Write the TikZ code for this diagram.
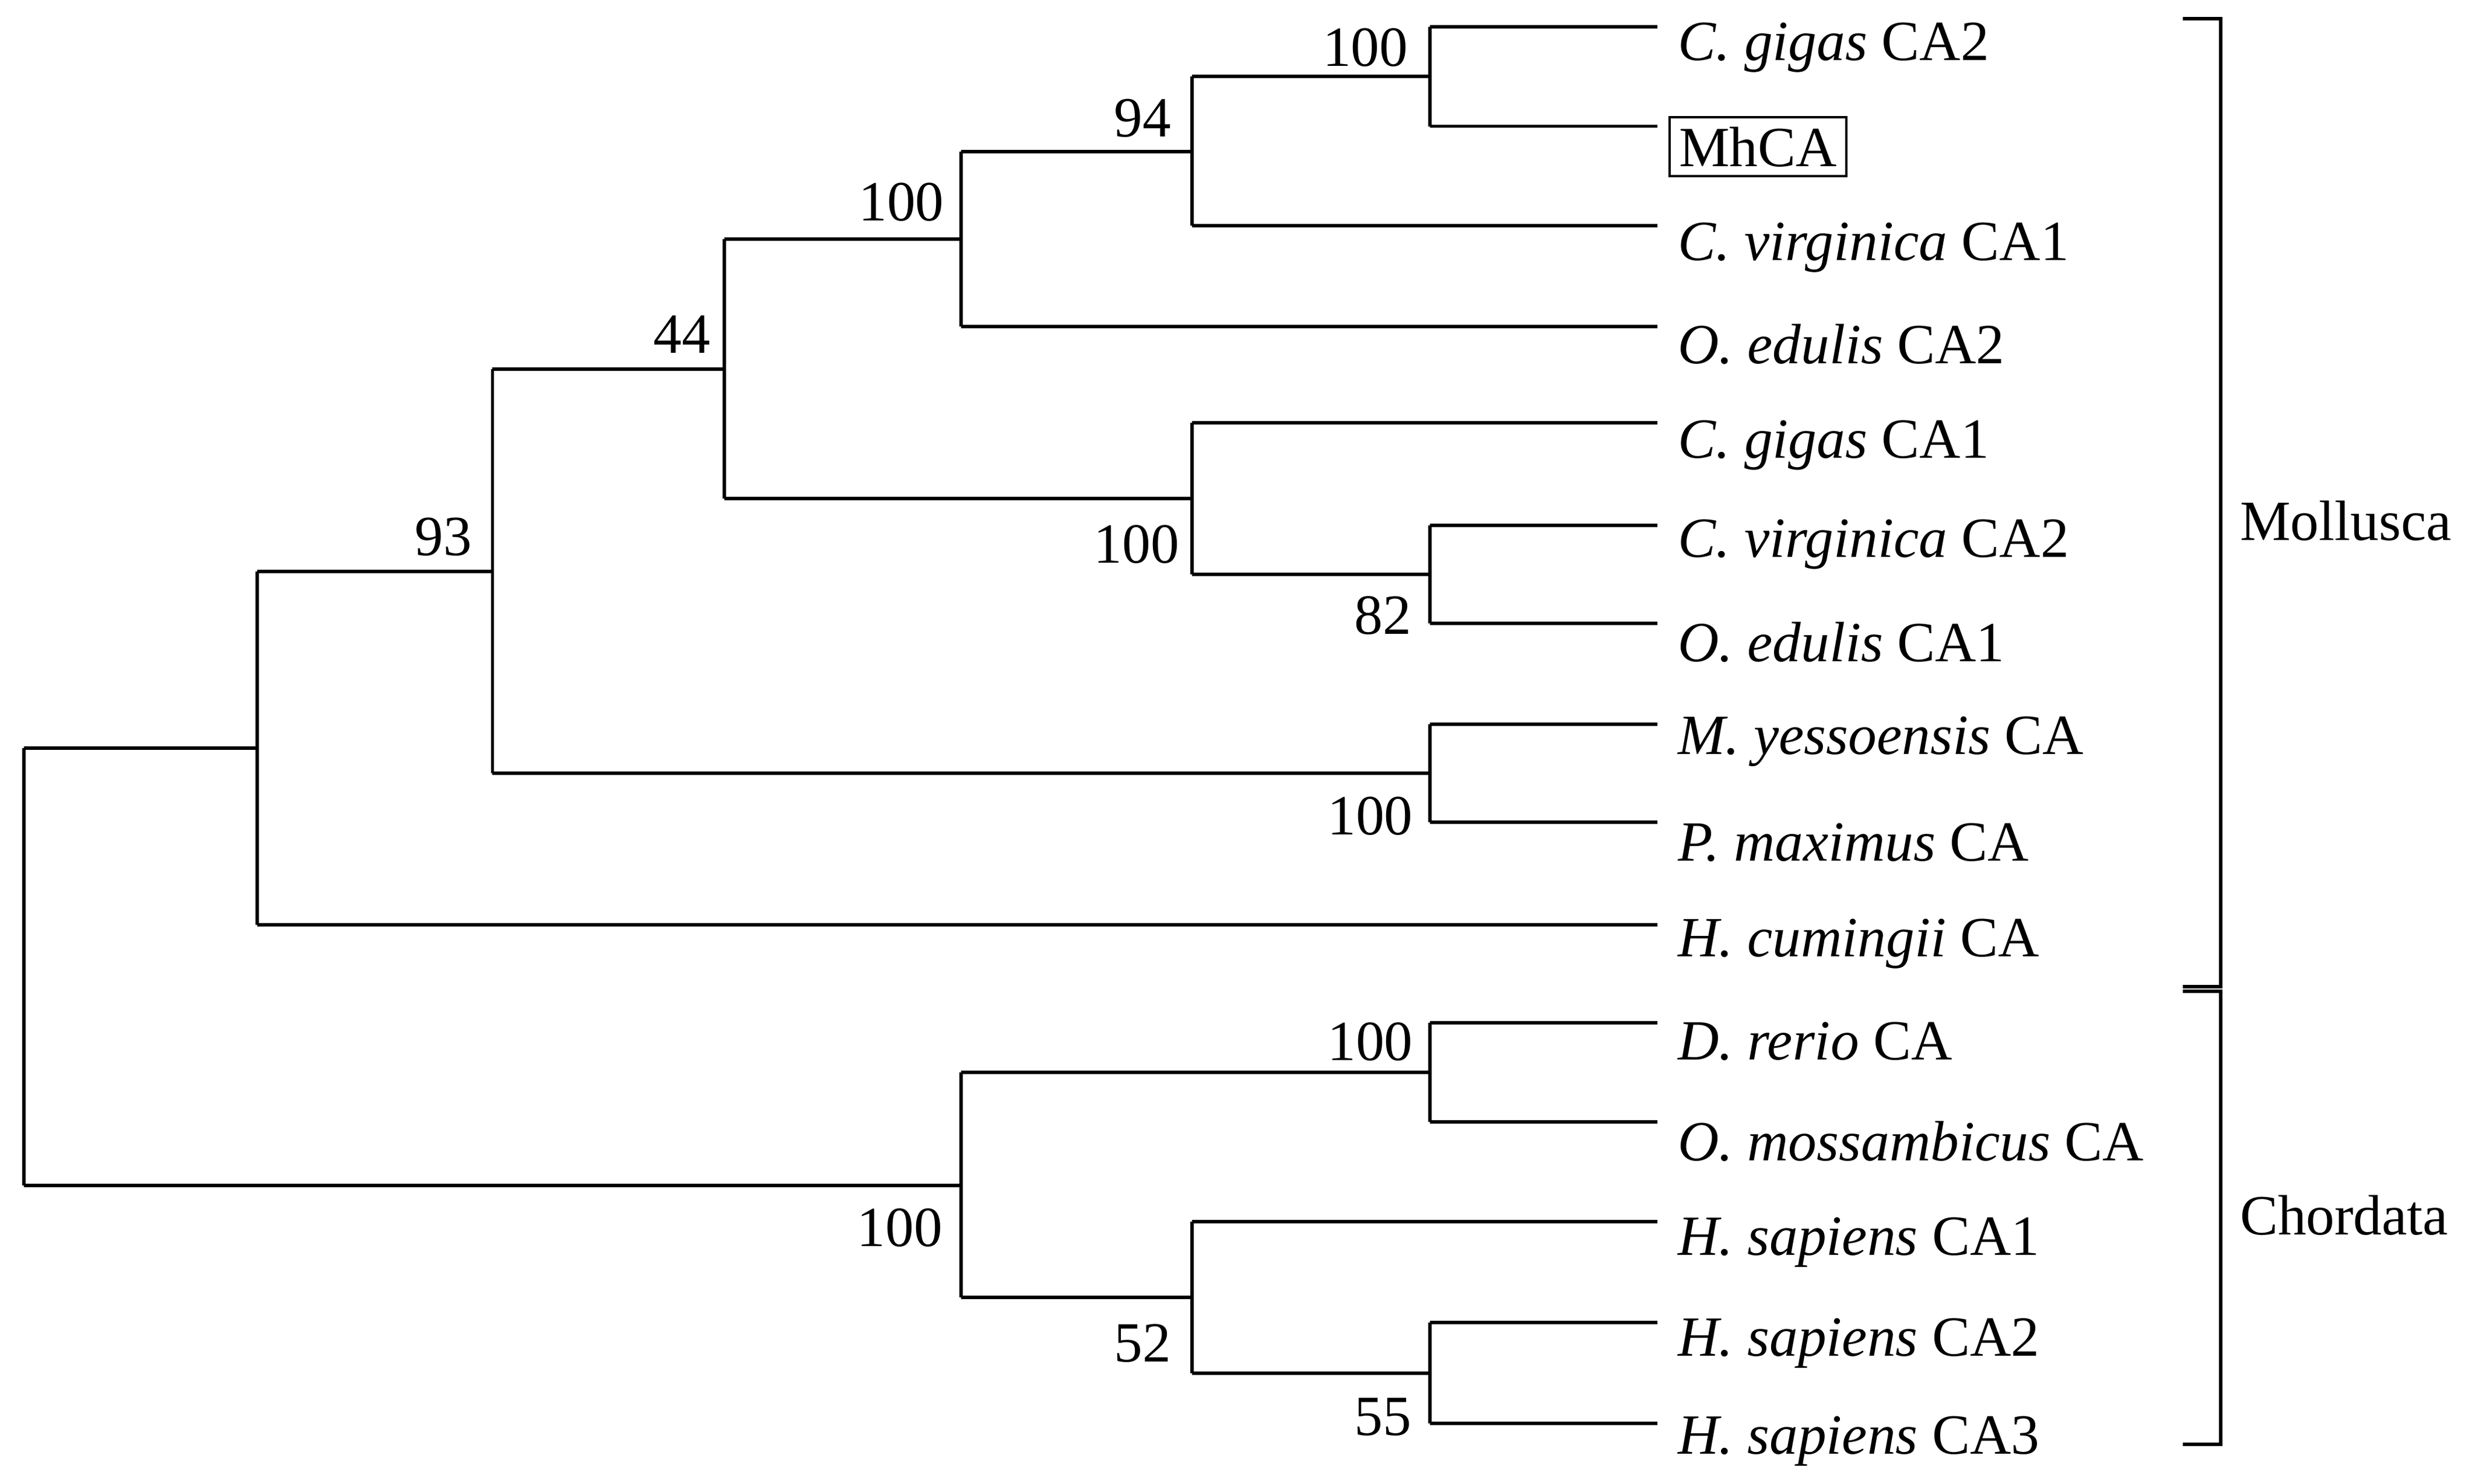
\documentclass[tikz,border=0pt]{standalone}
\usepackage{fontspec}
\setmainfont{Liberation Serif}
\begin{document}
\begin{tikzpicture}[x=0.5pt,y=-0.5pt,line width=1.1pt,
  lab/.style={anchor=west,inner sep=2pt,font=\fontsize{18}{20}\selectfont},
  bs/.style={font=\fontsize{18}{20}\selectfont,inner sep=0pt}]
\useasboundingbox (0,0) rectangle (1568,940);
% leaves
\foreach \n/\y in {a/17,b/80,c/143,d/207,e/268,f/333,g/395,h/459,i/521,j/586,k/648,l/711,m/774,o/838,p/902}
  \coordinate (\n) at (1050,\y);
\node[lab] (ta) at (1058,30) {\textit{C. gigas} CA2};
\node[lab,draw,line width=0.8pt,inner sep=3pt] (tb) at (1057,93) {MhCA};
\node[lab] (tc) at (1058,157) {\textit{C. virginica} CA1};
\node[lab] (td) at (1058,218) {\textit{O. edulis} CA2};
\node[lab] (te) at (1058,282) {\textit{C. gigas} CA1};
\node[lab] (tf) at (1058,345) {\textit{C. virginica} CA2};
\node[lab] (tg) at (1058,407) {\textit{O. edulis} CA1};
\node[lab] (th) at (1058,470) {\textit{M. yessoensis} CA};
\node[lab] (ti) at (1058,534) {\textit{P. maximus} CA};
\node[lab] (tj) at (1058,598) {\textit{H. cumingii} CA};
\node[lab] (tk) at (1058,660) {\textit{D. rerio} CA};
\node[lab] (tl) at (1058,723) {\textit{O. mossambicus} CA};
\node[lab] (tm) at (1058,787) {\textit{H. sapiens} CA1};
\node[lab] (to) at (1058,851) {\textit{H. sapiens} CA2};
\node[lab] (tp) at (1058,913) {\textit{H. sapiens} CA3};
% internal nodes
\coordinate (n1) at (906,48.5);
\coordinate (n2) at (755,96);
\coordinate (n3) at (609,151.5);
\coordinate (n4) at (906,364);
\coordinate (n5) at (755,316);
\coordinate (n6) at (459,234);
\coordinate (n7) at (906,490);
\coordinate (n8) at (312,362);
\coordinate (n9) at (163,474);
\coordinate (n10) at (906,679.5);
\coordinate (n11) at (906,870);
\coordinate (n12) at (755,822);
\coordinate (n13) at (609,751);
\coordinate (r) at (15,612.5);
\foreach \p/\c/\d in {n1/a/b,n2/n1/c,n3/n2/d,n4/f/g,n5/e/n4,n6/n3/n5,n7/h/i,n8/n6/n7,n9/n8/j,n10/k/l,n11/o/p,n12/m/n11,n13/n10/n12,r/n9/n13}
  \draw (\p |- \c) -- (\c) (\p |- \d) -- (\d) (\p |- \c) -- (\p |- \d);
% bootstrap labels
\node[bs] at (865,30) {100};
\node[bs] at (724,75) {94};
\node[bs] at (571,128) {100};
\node[bs] at (876,390) {82};
\node[bs] at (720,345) {100};
\node[bs] at (432,212) {44};
\node[bs] at (868,517) {100};
\node[bs] at (281,340) {93};
\node[bs] at (868,660) {100};
\node[bs] at (876,898) {55};
\node[bs] at (724,851) {52};
\node[bs] at (570,778) {100};
% brackets
\coordinate (b1) at (1407,12);
\coordinate (b2) at (1407,625);
\coordinate (b3) at (1407,628);
\coordinate (b4) at (1407,915);
\draw ([xshift=-12]b1) -- (b1) -- (b2) -- ([xshift=-12]b2);
\draw ([xshift=-12]b3) -- (b3) -- (b4) -- ([xshift=-12]b4);
\node[lab] (moll) at (1414,330) {Mollusca};
\node[lab] (chor) at (1414,770) {Chordata};
\end{tikzpicture}
\end{document}
